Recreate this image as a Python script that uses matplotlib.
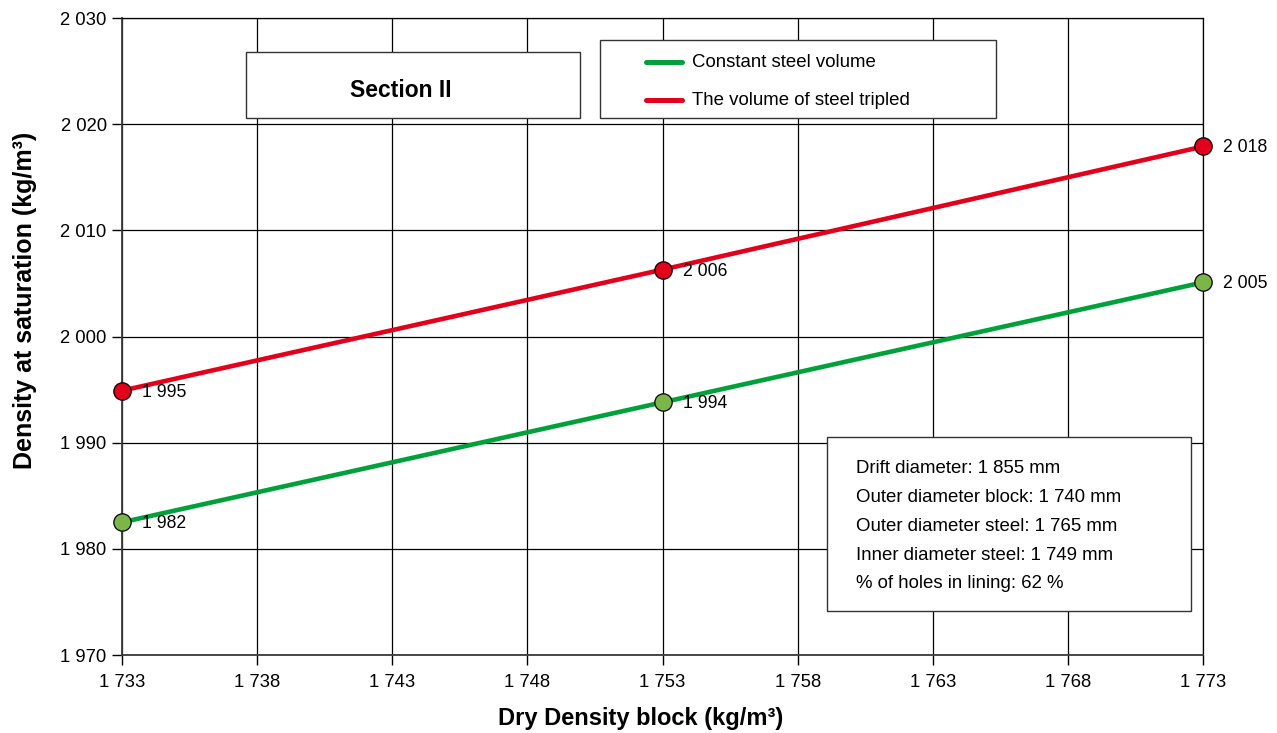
import matplotlib.pyplot as plt
from matplotlib.patches import Rectangle
from matplotlib.lines import Line2D
from matplotlib.ticker import FuncFormatter

plt.rcParams['font.family'] = ['Liberation Sans', 'DejaVu Sans']

dry_density = [1733, 1753, 1773]
constant_steel = [1982.5, 1993.8, 2005.1]
tripled_steel = [1994.9, 2006.3, 2017.9]
constant_labels = ["1 982", "1 994", "2 005"]
tripled_labels = ["1 995", "2 006", "2 018"]

x_ticks = list(range(1733, 1774, 5))
y_ticks = list(range(1970, 2031, 10))

info_lines = [
    "Drift diameter: 1 855 mm",
    "Outer diameter block: 1 740 mm",
    "Outer diameter steel: 1 765 mm",
    "Inner diameter steel: 1 749 mm",
    "% of holes in lining: 62 %",
]

GREEN_LINE = '#00a13a'
GREEN_FILL = '#7ab648'
RED = '#e2001a'


def space_thousands(v, pos=None):
    return f"{int(round(v)):,}".replace(",", " ")


fig = plt.figure(figsize=(12.77, 7.33), dpi=100)
ax = fig.add_axes([0.0955, 0.1064, 0.8466, 0.869])

ax.plot(dry_density, constant_steel, color=GREEN_LINE, lw=3.3, zorder=3,
        solid_capstyle='round')
ax.plot(dry_density, tripled_steel, color=RED, lw=3.3, zorder=3,
        solid_capstyle='round')
ax.plot(dry_density, constant_steel, 'o', ms=12.5, mfc=GREEN_FILL, mec='black',
        mew=0.9, zorder=4, clip_on=False)
ax.plot(dry_density, tripled_steel, 'o', ms=12.5, mfc=RED, mec='black',
        mew=0.9, zorder=4, clip_on=False)

for x, y, t in zip(dry_density, constant_steel, constant_labels):
    ax.annotate(t, (x, y), xytext=(14.5, -1), textcoords='offset points',
                va='center', ha='left', fontsize=12.7)
for x, y, t in zip(dry_density, tripled_steel, tripled_labels):
    ax.annotate(t, (x, y), xytext=(14.5, -1), textcoords='offset points',
                va='center', ha='left', fontsize=12.7)

ax.set_xlim(1733, 1773)
ax.set_ylim(1970, 2030)
ax.set_xticks(x_ticks)
ax.set_yticks(y_ticks)
ax.xaxis.set_major_formatter(FuncFormatter(space_thousands))
ax.yaxis.set_major_formatter(FuncFormatter(space_thousands))
ax.tick_params(axis='both', direction='out', length=7, width=1, labelsize=13.3,
               color='black')
ax.tick_params(axis='x', pad=7)
ax.tick_params(axis='y', pad=4)
ax.grid(True, color='black', lw=0.9)
ax.set_axisbelow(True)
for side in ['top', 'right']:
    ax.spines[side].set_color('black')
    ax.spines[side].set_linewidth(0.9)
for side in ['left', 'bottom']:
    ax.spines[side].set_color('#3a3a3a')
    ax.spines[side].set_linewidth(1.3)

ax.set_xlabel("Dry Density block (kg/m³)", fontsize=17, fontweight='bold',
              labelpad=11)
ax.set_ylabel("Density at saturation (kg/m³)", fontsize=18, fontweight='bold',
              labelpad=17)
ax.xaxis.label.set_x(0.48)
ax.yaxis.label.set_y(0.557)

# Section box
ax.add_patch(Rectangle((0.1147, 0.843), 0.309, 0.1036, transform=ax.transAxes,
                       fc='white', ec='#333333', lw=1, zorder=5))
ax.text(0.2575, 0.887, "Section II", transform=ax.transAxes, ha='center',
        va='center', fontsize=16.5, fontweight='bold', zorder=6)

# legend box
ax.add_patch(Rectangle((0.442, 0.843), 0.3665, 0.1225, transform=ax.transAxes,
                       fc='white', ec='#333333', lw=1, zorder=5))
for yy, col, lab in [(0.9305, GREEN_LINE, "Constant steel volume"),
                     (0.871, RED, "The volume of steel tripled")]:
    ax.add_line(Line2D([0.4845, 0.518], [yy, yy], transform=ax.transAxes,
                       color=col, lw=3.6, solid_capstyle='round', zorder=6))
    ax.text(0.527, yy, lab, transform=ax.transAxes, ha='left', va='center',
            fontsize=13.4, zorder=6)

# info box
ax.add_patch(Rectangle((0.652, 0.069), 0.337, 0.273, transform=ax.transAxes,
                       fc='white', ec='#333333', lw=1, zorder=5))
for i, line in enumerate(info_lines):
    ax.text(0.679, 0.2935 - i * 0.0455, line, transform=ax.transAxes,
            ha='left', va='center', fontsize=13.4, zorder=6)

fig.savefig("out.png", dpi=100)
